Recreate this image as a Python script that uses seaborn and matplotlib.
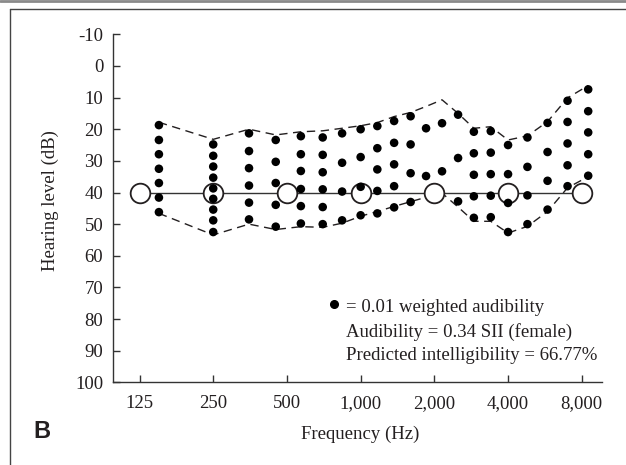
import pandas as pd
import seaborn as sns
import matplotlib.pyplot as plt
from matplotlib.lines import Line2D

# Critical-band centre frequencies (Hz) used for the count-the-dots audiogram
bands = [150, 250, 350, 450, 570, 700, 840, 1000, 1170, 1370, 1600,
         1850, 2150, 2500, 2900, 3400, 4000, 4800, 5800, 7000, 8500]

# Dot levels (dB HL) for each band
dots = [
    [18.7, 23.4, 27.9, 32.5, 37.0, 41.6, 46.2],
    [24.8, 28.4, 31.8, 35.3, 38.7, 42.0, 45.4, 48.8, 52.5],
    [21.3, 26.9, 32.3, 37.8, 43.2, 48.5],
    [23.4, 30.3, 37.0, 43.9, 50.8],
    [22.2, 27.9, 33.2, 38.9, 44.3, 49.8],
    [22.6, 28.1, 33.6, 39.0, 44.6, 50.0],
    [21.3, 30.6, 39.7, 48.8],
    [20.0, 28.8, 38.2, 47.2],
    [19.0, 26.0, 32.7, 39.5, 46.6],
    [17.4, 24.3, 31.1, 38.0, 44.7],
    [15.9, 24.8, 33.9, 43.0],
    [19.7, 34.8],
    [18.1, 33.3],
    [15.4, 29.1, 42.8],
    [20.8, 27.6, 34.4, 41.2, 48.0],
    [20.6, 27.4, 34.2, 41.0, 47.8],
    [25.0, 34.2, 43.3, 52.5],
    [22.6, 31.9, 40.9, 50.0],
    [18.0, 27.2, 36.3, 45.4],
    [11.0, 17.7, 24.5, 31.4, 38.0],
    [7.4, 14.3, 21.0, 27.9, 34.7],
]

# Speech range envelope (dashed)
env_upper = [17.8, 23.2, 20.0, 21.8, 20.8, 20.5, 19.7, 18.9, 17.9, 16.0, 14.7,
             12.8, 10.7, 15.0, 19.7, 19.2, 23.4, 22.1, 17.6, 10.1, 6.2]
env_lower = [46.6, 53.4, 50.0, 51.7, 50.8, 51.0, 49.7, 47.5, 46.0, 44.4, 42.9,
             41.5, 40.2, 44.6, 49.1, 49.1, 52.8, 50.7, 46.0, 38.5, 35.0]

# Hearing thresholds (open circles)
thr_freqs = [125, 250, 500, 1000, 2000, 4000, 8000]
thr_level = [40, 40, 40, 40, 40, 40, 40]
tick_labels = ['125', '250', '500', '1,000', '2,000', '4,000', '8,000']
y_ticks = list(range(-10, 101, 10))

rows = [(f, v) for f, col in zip(bands, dots) for v in col]
df = pd.DataFrame(rows, columns=['freq', 'level'])

sns.set_style('ticks')
plt.rcParams['font.family'] = ['Liberation Serif', 'DejaVu Serif']
plt.rcParams['axes.unicode_minus'] = False

fig = plt.figure(figsize=(6.26, 4.65), dpi=100)
ax = fig.add_axes([0.1805, 0.1778, 0.7812, 0.7484])

ink = '#231f20'

# envelope
sns.lineplot(x=bands, y=env_upper, sort=False, estimator=None, ax=ax,
             color=ink, lw=1, linestyle=(0, (6, 4)))
sns.lineplot(x=bands, y=env_lower, sort=False, estimator=None, ax=ax,
             color=ink, lw=1, linestyle=(0, (6, 4)))

# threshold line and circles
sns.lineplot(x=thr_freqs, y=thr_level, estimator=None, ax=ax, color='#333333', lw=1)
sns.scatterplot(x=thr_freqs, y=thr_level, ax=ax, s=200, facecolor='white',
                edgecolor=ink, linewidth=1.3, zorder=3)

# dots
sns.scatterplot(data=df, x='freq', y='level', ax=ax, color='black', s=38,
                edgecolor='none', zorder=4)

ax.set_xscale('log', base=2)
ax.set_xlim(97.4, 9680)
ax.set_ylim(100, -10)
ax.set_xticks(thr_freqs)
ax.set_xticklabels(tick_labels)
ax.minorticks_off()
ax.set_yticks(y_ticks)

for s in ['top', 'right']:
    ax.spines[s].set_visible(False)
for s in ['left', 'bottom']:
    ax.spines[s].set_color('#333333')
    ax.spines[s].set_linewidth(1)

ax.tick_params(axis='both', direction='in', length=5, width=1, color='#333333',
               labelsize=13.5, labelcolor=ink)
ax.tick_params(axis='x', pad=9)
ax.tick_params(axis='y', pad=7)

ax.set_xlabel('Frequency (Hz)', fontsize=13.5, color=ink)
ax.xaxis.set_label_coords(0.505, -0.126)
ax.set_ylabel('Hearing level (dB)', fontsize=13.5, color=ink)
ax.yaxis.label.set_va('center')
ax.yaxis.set_label_coords(-0.129, 0.522)

# legend-like annotation
ax.plot([0.4525], [0.224], 'o', transform=ax.transAxes, ms=5.5, color='black')
ax.text(0.476, 0.214, '= 0.01 weighted audibility', transform=ax.transAxes,
        va='center', fontsize=13.5, color=ink)
ax.text(0.476, 0.144, 'Audibility = 0.34 SII (female)', transform=ax.transAxes,
        va='center', fontsize=13.5, color=ink)
ax.text(0.476, 0.076, 'Predicted intelligibility = 66.77%', transform=ax.transAxes,
        va='center', fontsize=13.5, color=ink)

# panel label and frame
fig.text(0.067, 0.071, 'B', fontsize=17, fontweight='bold', ha='center', va='center',
         family=['Liberation Sans', 'DejaVu Sans'], color=ink)
fig.add_artist(Line2D([0, 1], [0.997, 0.997], transform=fig.transFigure,
                      color='#8a8a8a', lw=2))
fig.add_artist(Line2D([0.016, 1], [0.981, 0.981], transform=fig.transFigure,
                      color='#444444', lw=1))
fig.add_artist(Line2D([0.016, 0.016], [0, 0.981], transform=fig.transFigure,
                      color='#444444', lw=1))

fig.savefig('out.png', dpi=100)
